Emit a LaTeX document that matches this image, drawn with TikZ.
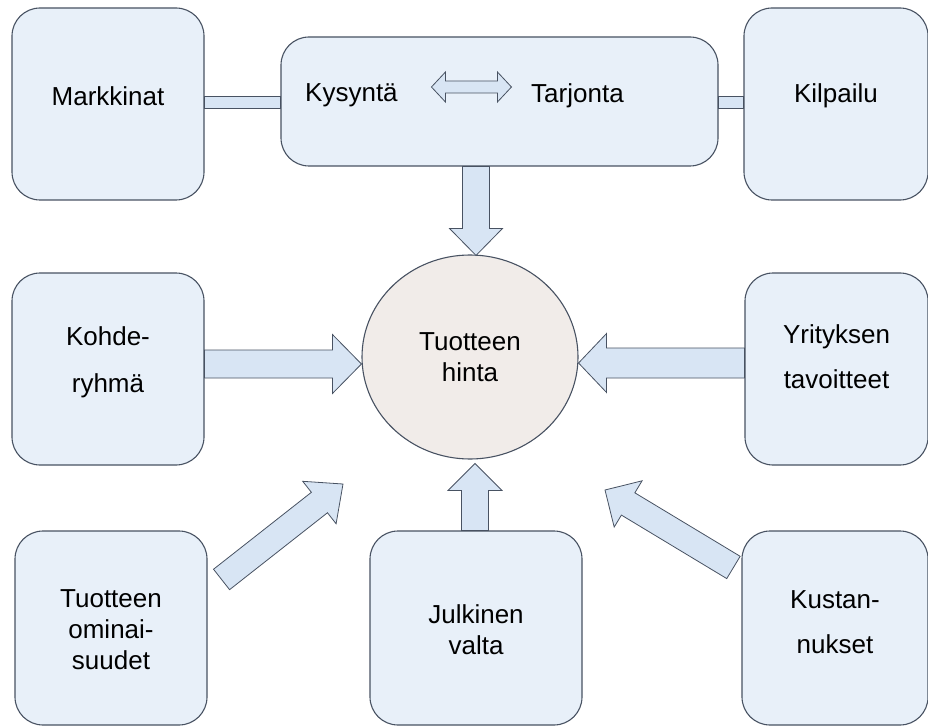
\documentclass[tikz,border=0pt]{standalone}
\usepackage{fontspec}
\setmainfont{Liberation Sans}
\usetikzlibrary{calc,shapes.geometric}
\definecolor{boxfill}{RGB}{232,240,249}
\definecolor{boxedge}{RGB}{72,82,98}
\definecolor{arrfill}{RGB}{216,229,244}
\definecolor{ballin}{RGB}{241,236,233}
\definecolor{ballout}{RGB}{236,212,194}
\pgfdeclareradialshading{ballshade}{\pgfpoint{0bp}{0bp}}{color(0bp)=(ballin); color(40bp)=(ballin); color(50bp)=(ballout)}
\tikzset{
  box/.style={draw=boxedge, line width=1.1pt, fill=boxfill, rounded corners=28pt,
    inner sep=0pt, align=center},
  lbl/.style={align=center},
  barrow/.style={draw=boxedge, line width=0.8pt, fill=arrfill, line join=miter}
}
% block arrow: from, to, shaft half width, head half width, head length
\newcommand\blockarrow[5]{%
  \path (#1) coordinate (ba-s) (#2) coordinate (ba-t);
  \path ($(ba-t)!#5!(ba-s)$) coordinate (ba-h);
  \draw[barrow] ($(ba-s)!#3!90:(ba-t)$) -- ($(ba-h)!#3!90:(ba-t)$) -- ($(ba-h)!#4!90:(ba-t)$)
    -- (ba-t) -- ($(ba-h)!#4!-90:(ba-t)$) -- ($(ba-h)!#3!-90:(ba-t)$) -- ($(ba-s)!#3!-90:(ba-t)$) -- cycle;
}
\newcommand\dblarrow[5]{%
  \path (#1) coordinate (da-s) (#2) coordinate (da-t);
  \path ($(da-t)!#5!(da-s)$) coordinate (da-h) ($(da-s)!#5!(da-t)$) coordinate (da-g);
  \draw[barrow] (da-s) -- ($(da-g)!#4!90:(da-t)$) -- ($(da-g)!#3!90:(da-t)$) -- ($(da-h)!#3!90:(da-t)$)
    -- ($(da-h)!#4!90:(da-t)$) -- (da-t) -- ($(da-h)!#4!-90:(da-t)$) -- ($(da-h)!#3!-90:(da-t)$)
    -- ($(da-g)!#3!-90:(da-t)$) -- ($(da-g)!#4!-90:(da-t)$) -- cycle;
}
\begin{document}
\begin{tikzpicture}[x=1pt,y=-1pt,font=\fontsize{26}{31}\selectfont]
\useasboundingbox (0,0) rectangle (928,727);
\node[box,minimum width=192pt,minimum height=192pt] (markt) at (108,104) {};
\node[box,minimum width=437pt,minimum height=129pt] (kt) at (499.5,101.5) {};
\node[box,minimum width=184pt,minimum height=192pt] (kilp) at (836,104) {};
\node[box,minimum width=192pt,minimum height=192pt] (kohde) at (108,369) {};
\node[box,minimum width=183pt,minimum height=192pt] (yrit) at (836.5,369) {};
\node[box,minimum width=192pt,minimum height=194pt] (omin) at (111,628) {};
\node[box,minimum width=212pt,minimum height=194pt] (julk) at (476,628) {};
\node[box,minimum width=186pt,minimum height=194pt] (kust) at (835,628) {};
\node[ellipse,draw=boxedge,line width=1.1pt,shading=ballshade,
  minimum width=216pt,minimum height=204pt,align=center] (hinta) at (470,357) {Tuotteen\\hinta};

\node[lbl] (markt-t) at ($(markt)+(0,-8)$) {Markkinat};
\node[lbl] (kilp-t) at ($(kilp)+(0,-8)$) {Kilpailu};
\node[lbl] (kohde-t) at ($(kohde)+(0,-7)$) {Kohde-\\[16pt]ryhmä};
\node[lbl] (yrit-t) at ($(yrit)+(0,-12)$) {Yrityksen\\[14pt]tavoitteet};
\node[lbl] (omin-t) at ($(omin)+(0,2)$) {Tuotteen\\ominai-\\suudet};
\node[lbl] (julk-t) at ($(julk)+(0,2)$) {Julkinen\\valta};
\node[lbl] (kust-t) at ($(kust)+(0,-6)$) {Kustan-\\[14pt]nukset};

\node (kys) at ($(kt.west)+(71,-6)$) {Kysyntä};
\node (tar) at ($(kt.west)+(297,-6)$) {Tarjonta};
\dblarrow{$(kt.west)+(151,-14.5)$}{$(kt.west)+(231,-14.5)$}{6pt}{15pt}{14pt}

\draw[barrow] ($(markt.east)+(0,-8)$) rectangle ($(kt.west |- markt.east)+(0,4)$);
\draw[barrow] ($(kt.east |- kilp.west)+(0,-8)$) rectangle ($(kilp.west)+(0,4)$);

\blockarrow{$(hinta.north |- kt.south)+(6,0)$}{$(hinta.north)+(6,1)$}{13.5pt}{26.5pt}{27pt}
\blockarrow{$(hinta.south |- julk.north)+(5,0)$}{$(hinta.south)+(5,4)$}{13.5pt}{27pt}{27pt}
\blockarrow{$(kohde.east |- hinta.west)+(0,7)$}{$(hinta.west)+(0,7)$}{14pt}{29.5pt}{29pt}
\blockarrow{$(yrit.west |- hinta.east)+(0,6)$}{$(hinta.east)+(0,6)$}{15pt}{29.5pt}{28pt}
\blockarrow{$(omin.north east)+(14,49)$}{$(hinta.center)+(-127,127)$}{13pt}{27pt}{30pt}
\blockarrow{$(kust.north west)+(-8,37)$}{$(hinta.center)+(135,133)$}{13pt}{27pt}{27pt}
\end{tikzpicture}
\end{document}
